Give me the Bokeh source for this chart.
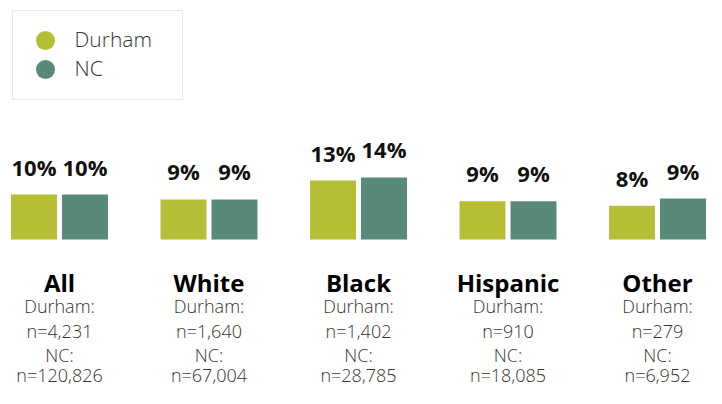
from bokeh.plotting import figure
from bokeh.models import Range1d, BoxAnnotation, ColumnDataSource
from bokeh.core.properties import value
from bokeh.embed import file_html
from bokeh.resources import INLINE

# ---- data ----
groups = ["All", "White", "Black", "Hispanic", "Other"]
durham_pct = [10.0, 8.9, 13.1, 8.5, 7.5]
nc_pct = [10.0, 8.9, 13.8, 8.5, 9.1]
durham_labels = ["10%", "9%", "13%", "9%", "8%"]
nc_labels = ["10%", "9%", "14%", "9%", "9%"]
durham_n = ["4,231", "1,640", "1,402", "910", "279"]
nc_n = ["120,826", "67,004", "28,785", "18,085", "6,952"]
series = ["Durham", "NC"]

DURHAM_COLOR = "#b5be34"
NC_COLOR = "#58897a"
FONT = "Open Sans"
LIGHT_FONT = "Open Sans Light"

W, H = 706, 388
# canvas-pixel layout helpers
GX0, GSTEP = 59.0, 149.5      # x of first group center, group spacing
BASE_Y, PX_PER = 239.0, 4.5   # y of bar baseline, px per percent
TXT_SHIFT = 9                 # text renders this much lower than requested


def px2x(px):
    return (px - GX0) / GSTEP


def py2y(py):
    return (BASE_Y - py) / PX_PER


def ty2y(py):
    return py2y(py - TXT_SHIFT)


p = figure(width=W, height=H, output_backend="svg", toolbar_location=None,
           x_range=Range1d(px2x(0), px2x(W)),
           y_range=Range1d(py2y(H), py2y(0)),
           min_border=0, outline_line_color=None)
p.axis.visible = False
p.grid.visible = False
p.background_fill_color = "white"
p.border_fill_color = "white"

idx = list(range(len(groups)))
bar_w = 46 / GSTEP
off = 25.5 / GSTEP

src_d = ColumnDataSource(dict(x=[i - off for i in idx], top=durham_pct, lab=durham_labels))
src_n = ColumnDataSource(dict(x=[i + off for i in idx], top=nc_pct, lab=nc_labels))

p.vbar(x="x", top="top", bottom=0, width=bar_w, source=src_d,
       fill_color=DURHAM_COLOR, line_color=None)
p.vbar(x="x", top="top", bottom=0, width=bar_w, source=src_n,
       fill_color=NC_COLOR, line_color=None)

for src in (src_d, src_n):
    p.text(x="x", y="top", text="lab", source=src, y_offset=-19 - TXT_SHIFT,
           text_align="center", text_baseline="alphabetic",
           text_font=value(FONT), text_font_style="bold",
           text_font_size="22px", text_color="#111111")

# category labels and counts
cat_src = ColumnDataSource(dict(
    x=idx, name=groups,
    d1=["Durham:"] * len(groups),
    d2=["n=" + s for s in durham_n],
    n1=["NC:"] * len(groups),
    n2=["n=" + s for s in nc_n],
))
p.text(x="x", y=ty2y(291), text="name", source=cat_src,
       text_align="center", text_baseline="alphabetic",
       text_font=value(FONT), text_font_style="bold",
       text_font_size="24px", text_color="#000000")
for col, py in (("d1", 314), ("d2", 339), ("n1", 363), ("n2", 383)):
    p.text(x="x", y=ty2y(py), text=col, source=cat_src,
           text_align="center", text_baseline="alphabetic",
           text_font=value(LIGHT_FONT), text_font_size="18px",
           text_color="#333333")

# legend (drawn manually to match round markers)
p.add_layout(BoxAnnotation(left=px2x(12), right=px2x(182),
                           top=py2y(10), bottom=py2y(99),
                           fill_color="white", fill_alpha=1.0,
                           line_color="#b0b0b0", line_width=1,
                           level="underlay"))
leg_src = ColumnDataSource(dict(
    x=[px2x(45)] * 2, y=[py2y(40), py2y(69)],
    tx=[px2x(74)] * 2, ty=[ty2y(47), ty2y(76)],
    label=series, color=[DURHAM_COLOR, NC_COLOR]))
p.scatter(x="x", y="y", size=19, marker="circle", color="color",
          line_color=None, source=leg_src)
p.text(x="tx", y="ty", text="label", source=leg_src,
       text_align="left", text_baseline="alphabetic",
       text_font=value(LIGHT_FONT), text_font_size="21px", text_color="#333333")

open("out.html", "w").write(file_html(p, INLINE))
